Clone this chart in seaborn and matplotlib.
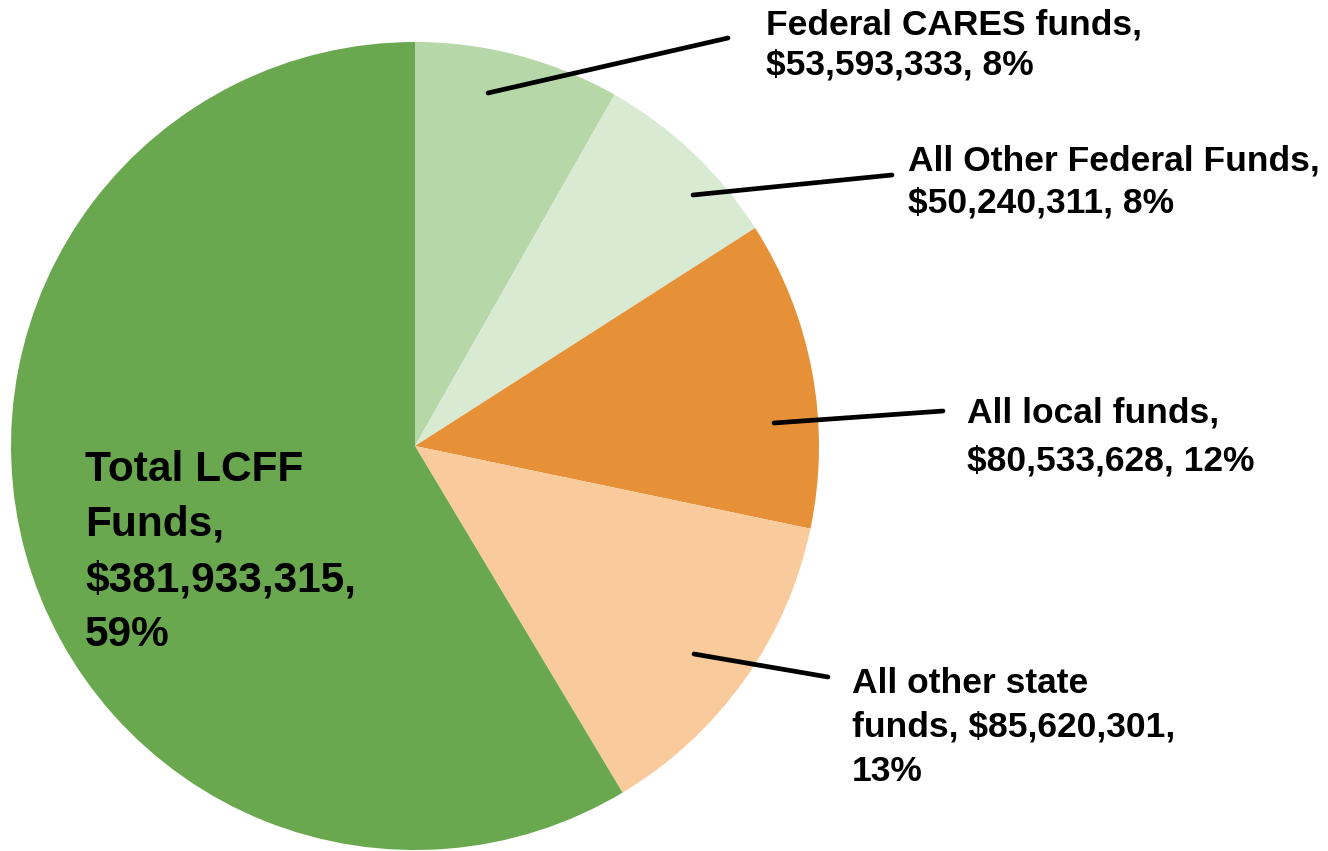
import matplotlib
matplotlib.use("Agg")
import matplotlib.pyplot as plt
import seaborn as sns

# funding sources, clockwise from 12 o'clock
sources = ["Federal CARES funds", "All Other Federal Funds", "All local funds",
           "All other state funds", "Total LCFF Funds"]
amounts = [53593333, 50240311, 80533628, 85620301, 381933315]
labels = [
    "Federal CARES funds,\n$53,593,333, 8%",
    "All Other Federal Funds,\n$50,240,311, 8%",
    "All local funds,\n$80,533,628, 12%",
    "All other state\nfunds, $85,620,301,\n13%",
    "Total LCFF\nFunds,\n$381,933,315,\n59%",
]
colors = ["#B6D7A8", "#D9EAD3", "#E69138", "#F9CB9C", "#6AA84F"]

W, H = 1328, 851

sns.set_style("white")
plt.rcParams["font.family"] = ["Liberation Sans", "DejaVu Sans"]

fig = plt.figure(figsize=(W / 100, H / 100), dpi=100)
ax = fig.add_axes([0, 0, 1, 1])

palette = sns.color_palette(colors)
ax.pie(amounts, colors=palette, startangle=90, counterclock=False,
       center=(415, H - 446), radius=404,
       wedgeprops=dict(linewidth=0, antialiased=True))
ax.set_xlim(0, W)
ax.set_ylim(0, H)
ax.axis("off")

# leader lines (start inside wedge -> end near label), in pixel coords from top
leaders = [
    ((488, 93), (728, 38)),
    ((693, 195), (892, 175)),
    ((774, 423), (943, 411)),
    ((694, 654), (828, 677)),
]
for (x0, y0), (x1, y1) in leaders:
    ax.annotate("", xy=(x0, H - y0), xytext=(x1, H - y1),
                arrowprops=dict(arrowstyle="-", color="black", lw=3.4,
                                shrinkA=0, shrinkB=0))

# label layout: left x, first-line baseline y (pixels from top), size, line step
label_pos = [(766, 35), (908, 170), (967, 423), (852, 693), (85, 481)]
label_size = [25.5, 25.5, 25.5, 25.5, 30.5]
label_step = [40, 43, 47, 44, 55]

for txt, (x, y), fs, step in zip(labels, label_pos, label_size, label_step):
    for i, line in enumerate(txt.split("\n")):
        ax.text(x, H - (y + i * step), line, ha="left", va="baseline",
                fontsize=fs, fontweight="bold", color="black")

fig.savefig("out.png", dpi=100)
